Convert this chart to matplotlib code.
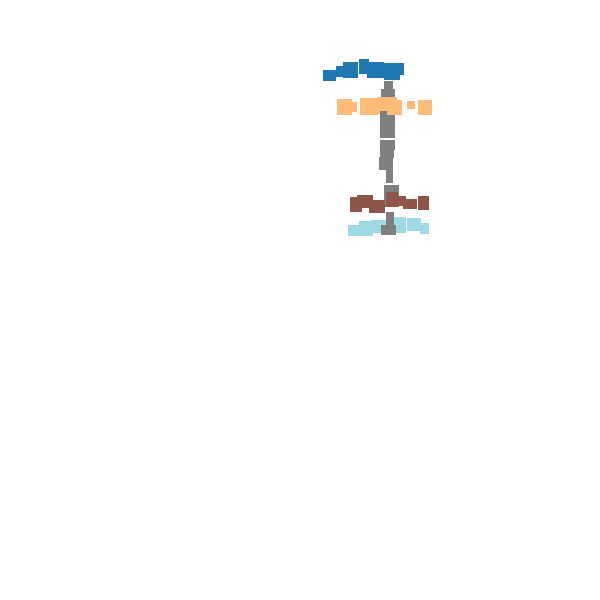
import matplotlib
matplotlib.use("Agg")
import matplotlib.pyplot as plt
import numpy as np

# rectangles per group: left, right, top, bottom (picture units, y downward)
blue_x0 = [323, 336, 343, 359, 367, 384, 392]
blue_x1 = [336, 350, 358, 369, 384, 400, 404]
blue_y0 = [70, 66, 62, 59, 62, 63, 63]
blue_y1 = [81, 77, 78, 74, 78, 80, 75]

orange_x0 = [337, 347, 360, 367, 378, 387, 407, 418]
orange_x1 = [352, 357, 378, 380, 397, 402, 415, 432]
orange_y0 = [99, 102, 98, 103, 97, 100, 101, 100]
orange_y1 = [115, 112, 115, 114, 111, 115, 109, 115]

gray_x0 = [384, 381, 380, 380, 380, 379, 386, 384, 386, 381]
gray_x1 = [393, 395, 395, 395, 394, 393, 393, 399, 394, 396]
gray_y0 = [81, 89, 97, 140, 150, 157, 170, 185, 212, 225]
gray_y1 = [89, 98, 138, 150, 158, 170, 183, 207, 227, 235]

brown_x0 = [350, 357, 369, 386, 397, 403, 418]
brown_x1 = [362, 373, 385, 398, 406, 417, 429]
brown_y0 = [197, 195, 200, 192, 196, 199, 196]
brown_y1 = [212, 208, 213, 207, 206, 209, 210]

cyan_x0 = [348, 359, 371, 394, 407, 420]
cyan_x1 = [373, 371, 386, 406, 421, 429]
cyan_y0 = [225, 221, 220, 217, 218, 223]
cyan_y1 = [236, 233, 233, 233, 231, 234]

groups = [
    (cyan_x0, cyan_x1, cyan_y0, cyan_y1, '#9edae5', 1),
    (gray_x0, gray_x1, gray_y0, gray_y1, '#7f7f7f', 2),
    (brown_x0, brown_x1, brown_y0, brown_y1, '#8c564b', 3),
    (orange_x0, orange_x1, orange_y0, orange_y1, '#ffbb78', 3),
    (blue_x0, blue_x1, blue_y0, blue_y1, '#1f77b4', 3),
]

fig = plt.figure(figsize=(6, 6), dpi=100)
ax = fig.add_axes([0, 0, 1, 1])

for x0, x1, y0, y1, col, z in groups:
    x0 = np.array(x0); x1 = np.array(x1)
    y0 = np.array(y0); y1 = np.array(y1)
    ax.bar(x0, y1 - y0, width=x1 - x0, bottom=y0, align='edge',
           color=col, linewidth=0, zorder=z)

ax.set_xlim(0, 600)
ax.set_ylim(600, 0)
ax.axis('off')

fig.savefig('out.png', dpi=100)
